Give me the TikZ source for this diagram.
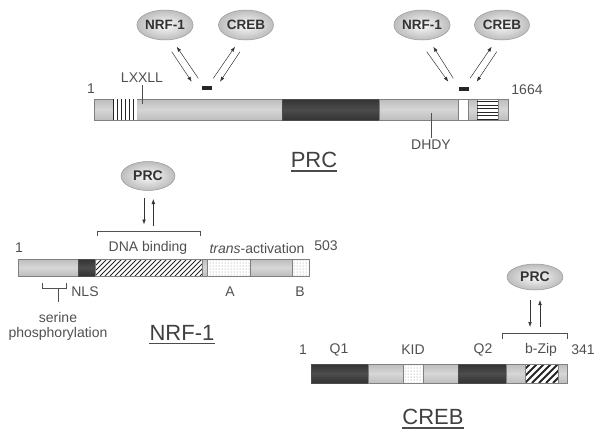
\documentclass[tikz,border=0pt]{standalone}
\usepackage{fontspec}
\setmainfont{Liberation Sans}
\usetikzlibrary{arrows.meta,patterns,shapes.geometric}
\definecolor{txt}{HTML}{505050}
\definecolor{barlt}{HTML}{BDBDBD}
\definecolor{barmid}{HTML}{D6D6D6}
\definecolor{bardk}{HTML}{333333}
\tikzset{
  lab/.style={text=txt, font=\fontsize{14}{16}\selectfont, inner sep=0pt},
  head/.style={text=black!75, font=\fontsize{22}{24}\selectfont, inner sep=0pt},
  ell/.style={ellipse, draw=black!40, line width=0.5pt, inner sep=0pt,
     inner color=black!2, outer color=black!26,
     font=\bfseries\fontsize{13.5}{15}\selectfont, text=black!80},
  lightseg/.style={draw=black!50, line width=0.4pt, top color=barlt, bottom color=barlt, middle color=barmid},
  darkseg/.style={draw=black!70, line width=0.4pt, top color=bardk, bottom color=bardk, middle color=black!70},
  whiteseg/.style={draw=black!50, line width=0.4pt, fill=white},
  dotseg/.style={draw=black!50, line width=0.4pt, fill=white, postaction={pattern=dots, pattern color=black!45}},
  arr/.style={draw=black!80, line width=0.5pt, -{Latex[length=5pt,width=3.6pt]}},
  thin/.style={draw=txt, line width=0.6pt},
  uline/.style={draw=black!70, line width=1.3pt}
}
\begin{document}
\begin{tikzpicture}[x=1pt,y=-1pt]
\useasboundingbox (0,0) rectangle (604,437);

% ================= PRC =================
\path[lightseg] (94,99) rectangle (282,120);
\path[whiteseg,draw=none] (113,99) rectangle (137,120);
\foreach \x in {113.5,117.4,121.3,125.2,129.1,133} {\draw[black!85,line width=1pt] (\x,99) -- (\x,120);}
\path[darkseg] (282,99) rectangle (379,120);
\path[lightseg] (379,99) rectangle (458,120);
\path[whiteseg] (458,99) rectangle (468,120);
\path[lightseg] (468,99) rectangle (508,120);
\path[whiteseg] (477,99) rectangle (498,120);
\foreach \y in {101.5,105,108.5,112,115.5,119} {\draw[black!85,line width=0.9pt] (477,\y) -- (498,\y);}

\node[lab] (p1) at (91,89) {1};
\node[lab] (plx) at (142,78) {LXXLL};
\coordinate (plxt) at (142.5,104);
\draw[thin] ([yshift=-2pt]plx.south -| plxt) -- (plxt);
\node[lab] (pdh) at (431,145) {DHDY};
\coordinate (pdht) at (431.5,113);
\draw[thin] ([yshift=2pt]pdh.north -| pdht) -- (pdht);
\node[lab] (p1664) at (527,90) {1664};
\node[head] (prclab) at (314,160) {PRC};
\draw[uline] ([yshift=-3pt]prclab.south west) -- ([yshift=-3pt]prclab.south east);

\node[fill=black!85, minimum width=10pt, minimum height=4pt, inner sep=0pt] (dashL) at (206.5,88) {};
\node[fill=black!85, minimum width=10pt, minimum height=4pt, inner sep=0pt] (dashR) at (463.5,89) {};

\node[ell, minimum width=53pt, minimum height=30pt] (nrfL) at (165,25) {NRF-1};
\node[ell, minimum width=55pt, minimum height=30pt] (crebL) at (246,25) {CREB};
\node[ell, minimum width=53pt, minimum height=30pt] (nrfR) at (422,25) {NRF-1};
\node[ell, minimum width=55pt, minimum height=30pt] (crebR) at (502,25) {CREB};

% arrows left group
\coordinate (a1s) at (171.7,51.7); \coordinate (a1e) at (191.7,81.7);
\coordinate (a2s) at (198.3,78.3); \coordinate (a2e) at (176.7,46.7);
\coordinate (a3s) at (213.3,78.3); \coordinate (a3e) at (235,46.7);
\coordinate (a4s) at (240,51.7);   \coordinate (a4e) at (220,81.7);
\draw[arr] (a1s) -- (a1e); \draw[arr] (a2s) -- (a2e);
\draw[arr] (a3s) -- (a3e); \draw[arr] (a4s) -- (a4e);
% arrows right group
\coordinate (b1s) at (426.7,51.7); \coordinate (b1e) at (448.3,81.7);
\coordinate (b2s) at (453.3,78.3); \coordinate (b2e) at (433.3,46.7);
\coordinate (b3s) at (470,78.3);   \coordinate (b3e) at (491.7,46.7);
\coordinate (b4s) at (496.7,51.7); \coordinate (b4e) at (476.7,81.7);
\draw[arr] (b1s) -- (b1e); \draw[arr] (b2s) -- (b2e);
\draw[arr] (b3s) -- (b3e); \draw[arr] (b4s) -- (b4e);

% ================= NRF-1 =================
\path[lightseg] (18,259) rectangle (78,276);
\path[darkseg] (78,259) rectangle (95,276);
\path[whiteseg] (95,259) rectangle (202,276);
\begin{scope}
  \clip (95,259) rectangle (202,276);
  \foreach \x in {80,85,...,205} {\draw[black!85,line width=0.8pt] (\x,276) -- (\x+17,259);}
\end{scope}
\draw[black!50,line width=0.4pt] (95,259) rectangle (202,276);
\path[lightseg] (202,259) rectangle (207,276);
\path[dotseg] (207,259) rectangle (250,276);
\path[lightseg] (250,259) rectangle (292,276);
\path[dotseg] (292,259) rectangle (309,276);

\node[lab] (n1) at (19,248) {1};
\node[lab] (ndna) at (148,248) {DNA binding};
\node[lab] (ntrans) at (257,248) {\textit{trans}-activation};
\node[lab] (n503) at (326,246) {503};
\node[lab] (nnls) at (85,292) {NLS};
\node[lab] (nA) at (230,292) {A};
\node[lab] (nB) at (300,292) {B};
\node[lab] (nser) at (58,317) {serine};
\node[lab] (nphos) at (58,334) {phosphorylation};
\node[head] (nrflab) at (182,333) {NRF-1};
\draw[uline] ([yshift=-3pt]nrflab.south west) -- ([yshift=-3pt]nrflab.south east);

% bracket below (serine phosphorylation)
\coordinate (sbl) at (42.7,283); \coordinate (sbr) at (66,283);
\coordinate (sbs) at (58.3,302);
\draw[thin] (sbl) -- (42.7,288.5) -- (66,288.5) -- (sbr);
\draw[thin] (58.3,288.5) -- (sbs);

% bracket above DNA binding
\coordinate (dbl) at (97,236); \coordinate (dbr) at (200,236);
\draw[thin] (dbl) -- (97,231) -- (200,231) -- (dbr);

\node[ell, minimum width=54pt, minimum height=29pt, font=\bfseries\fontsize{14}{15}\selectfont] (prcN) at (148,176) {PRC};
\coordinate (c1s) at (144,198); \coordinate (c1e) at (144,224.5);
\coordinate (c2s) at (153.3,225.5); \coordinate (c2e) at (153.3,199);
\draw[arr] (c1s) -- (c1e); \draw[arr] (c2s) -- (c2e);

% ================= CREB =================
\path[darkseg] (311,364) rectangle (368,383);
\path[lightseg] (368,364) rectangle (403,383);
\path[dotseg] (403,364) rectangle (423,383);
\path[lightseg] (423,364) rectangle (458,383);
\path[darkseg] (458,364) rectangle (506,383);
\path[lightseg] (506,364) rectangle (525,383);
\path[whiteseg] (525,364) rectangle (558,383);
\begin{scope}
  \clip (525,364) rectangle (558,383);
  \foreach \x in {504,511,...,560} {\draw[black!85,line width=2pt] (\x,383) -- (\x+19,364);}
\end{scope}
\draw[black!50,line width=0.4pt] (525,364) rectangle (558,383);
\path[lightseg] (558,364) rectangle (567,383);

\node[lab] (c1) at (303,350) {1};
\node[lab] (cq1) at (339,350) {Q1};
\node[lab] (ckid) at (413,350) {KID};
\node[lab] (cq2) at (483,350) {Q2};
\node[lab] (cbz) at (541,350) {b-Zip};
\node[lab] (c341) at (583,350) {341};
\node[head] (creblab) at (433,417) {CREB};
\draw[uline] ([yshift=-3pt]creblab.south west) -- ([yshift=-3pt]creblab.south east);

\coordinate (cbl) at (502,339); \coordinate (cbr) at (567,339);
\draw[thin] (cbl) -- (502,333) -- (567,333) -- (cbr);

\node[ell, minimum width=56pt, minimum height=26pt, font=\bfseries\fontsize{14}{15}\selectfont] (prcC) at (535,277) {PRC};
\coordinate (d1s) at (530,300); \coordinate (d1e) at (530,327);
\coordinate (d2s) at (540,327); \coordinate (d2e) at (540,300);
\draw[arr] (d1s) -- (d1e); \draw[arr] (d2s) -- (d2e);
\end{tikzpicture}
\end{document}
